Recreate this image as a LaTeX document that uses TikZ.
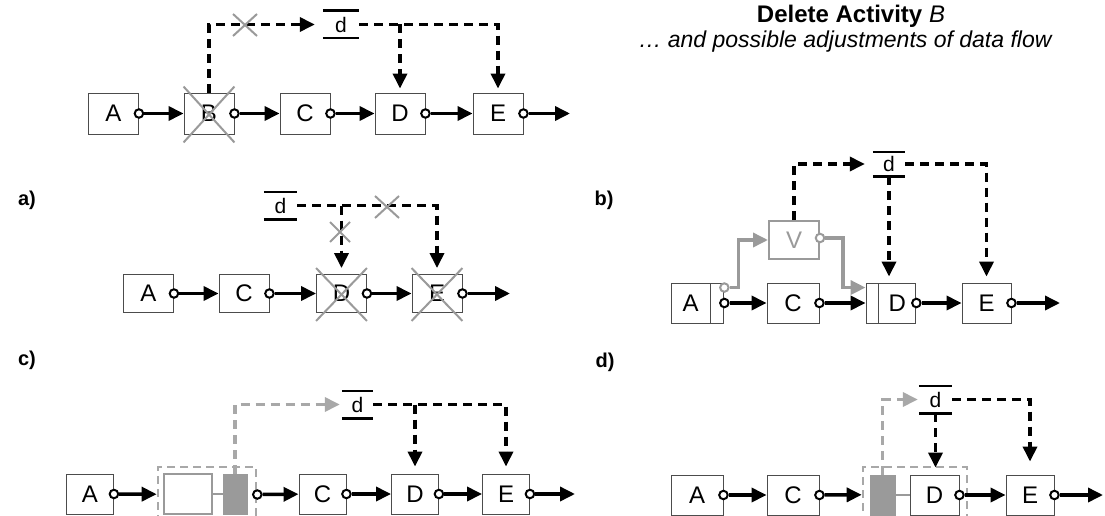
\documentclass[tikz,border=0pt]{standalone}
\usepackage{fontspec}
\setmainfont{Liberation Sans}
\usetikzlibrary{arrows.meta,positioning}
\definecolor{lgrey}{HTML}{9A9A9A}
\definecolor{dgrey}{HTML}{A8A8A8}

\tikzset{
  act/.style={draw=black!70,line width=.9pt,fill=white,minimum width=50pt,
    minimum height=40pt,inner sep=0pt,font=\fontsize{24}{28}\selectfont},
  gact/.style={act,draw=lgrey,text=lgrey,line width=2pt},
  blk/.style={draw=lgrey,fill=lgrey,minimum width=24pt,minimum height=40pt,inner sep=0pt},
  grp/.style={draw=dgrey,line width=2.6pt,dash pattern=on 8pt off 5pt,
    minimum width=98pt,minimum height=55pt,inner sep=0pt},
  port/.style={circle,draw,line width=2pt,fill=white,minimum size=8.5pt,inner sep=0pt},
  flow/.style={line width=3.5pt,-{Triangle[length=15pt,width=14pt]}},
  gflow/.style={flow,draw=lgrey},
  dflow/.style={flow,dash pattern=on 9pt off 6pt},
  gdflow/.style={dflow,draw=dgrey},
  bar/.style={draw,line width=2.6pt},
  data/.style={minimum width=34pt,minimum height=27pt,inner sep=0pt,
    font=\fontsize{21}{24}\selectfont,
    append after command={(\tikzlastnode.north west) edge[bar] (\tikzlastnode.north east)
      (\tikzlastnode.south west) edge[bar] (\tikzlastnode.south east)}},
  xmark/.style={draw=lgrey,line width=2pt},
  lbl/.style={font=\fontsize{20}{24}\selectfont\bfseries},
}

\begin{document}
\begin{tikzpicture}[x=1pt,y=-1pt]
  \useasboundingbox (0,0) rectangle (1105,516);

  % title
  \node[font=\fontsize{24}{26}\selectfont\bfseries] (title) at (851,16)
    {Delete Activity {\mdseries\itshape B}};
  \node[font=\fontsize{23}{26}\selectfont\itshape] (sub) at (845,42)
    {\dots{} and possible adjustments of data flow};

  % original process
  \node[act,minimum height=41pt] (A0) at (113.5,113.5) {A};
  \node[act,minimum height=41pt] (B0) at (209,113.5) {B};
  \node[act,minimum height=41pt] (C0) at (305,113.5) {C};
  \node[act,minimum height=41pt] (D0) at (400,113.5) {D};
  \node[act,minimum height=41pt] (E0) at (498,113.5) {E};
  \coordinate (end0) at (570,113.5);
  \node[data,minimum width=36pt] (d0) at (341,24.5) {d};
  \foreach \n/\m in {A0/B0,B0/C0,C0/D0,D0/E0,E0/end0}{
    \node[port] (p\n) at (\n.east) {};
    \draw[flow] (p\n) -- (\m);
  }
  \draw[dflow,shorten >=8pt] (B0.north) |- (d0.west);
  \draw[dflow,shorten >=4pt] (d0.east) -| (E0.north);
  \draw[dflow,shorten >=4pt] (D0.north |- d0.east) -- (D0.north);
  \draw[xmark] (245,25) +(-12,-11) -- +(12,11) +(-12,11) -- +(12,-11);
  \draw[xmark] ([yshift=6pt]B0.north west) -- ([yshift=-8pt]B0.south east)
    ([yshift=-8pt]B0.south west) -- ([yshift=6pt]B0.north east);

  % a)
  \node[lbl] (la) at (27,200) {a)};
  \node[act,minimum height=38pt] (A1) at (148.5,293.5) {A};
  \node[act,minimum height=38pt] (C1) at (244,293.5) {C};
  \node[act,minimum height=38pt] (D1) at (341.5,293.5) {D};
  \node[act,minimum height=38pt] (E1) at (437,293.5) {E};
  \coordinate (end1) at (510,293.5);
  \node[data,minimum width=33pt] (d1) at (280.5,205.5) {d};
  \foreach \n/\m in {A1/C1,C1/D1,D1/E1,E1/end1}{
    \node[port] (p\n) at (\n.east) {};
    \draw[flow] (p\n) -- (\m);
  }
  \draw[dflow,shorten >=6pt] (d1.east) -| (E1.north);
  \draw[dflow,shorten >=6pt] (D1.north |- d1.east) -- (D1.north);
  \draw[xmark] (340,232) +(-10,-10) -- +(10,10) +(-10,10) -- +(10,-10);
  \draw[xmark] (387,207) +(-12,-11) -- +(12,11) +(-12,11) -- +(12,-11);
  \foreach \n in {D1,E1}
    \draw[xmark] ([yshift=6pt]\n.north west) -- ([yshift=-8pt]\n.south east)
      ([yshift=-8pt]\n.south west) -- ([yshift=6pt]\n.north east);

  % b)
  \node[lbl] (lb) at (604,200) {b)};
  \node[act,minimum width=39pt] (A2) at (690.5,303) {A};
  \node[act,minimum width=13pt,right=0pt of A2] (A2p) {};
  \node[act,minimum width=52pt] (C2) at (793,303) {C};
  \node[act,minimum width=12pt] (D2p) at (872,303) {};
  \node[act,minimum width=37pt,right=0pt of D2p] (D2) {D};
  \node[act,minimum width=49pt] (E2) at (986.5,303) {E};
  \coordinate (end2) at (1060,303);
  \node[gact,minimum height=38pt] (V) at (794,240) {V};
  \node[data,minimum width=32pt,minimum height=24pt] (d2) at (889,164) {d};
  \node[port] (pA2) at (A2p.east) {};
  \node[port,draw=lgrey] (pA2g) at ([yshift=-5pt]A2p.north east) {};
  \node[port,draw=lgrey] (pV) at ([yshift=2pt]V.east) {};
  \node[port] (pD2) at (D2.east) {};
  \node[port] (pE2) at (E2.east) {};
  \node[port] (pC2) at (C2.east) {};
  \draw[gflow] (pA2g) -- ++(14,0) |- (V.west);
  \draw[gflow] (pV) -- ++(23,0) |- (D2p.west |- pA2g);
  \draw[flow] (pA2) -- (C2);
  \draw[flow] (pC2) -- (D2p);
  \draw[flow] (pD2) -- (E2);
  \draw[flow] (pE2) -- (end2);
  \draw[dflow,shorten >=8pt] (V.north) |- (d2.west);
  \draw[dflow,shorten >=6pt] (d2.east) -| (E2.north);
  \draw[dflow,shorten >=6pt] (d2.south) -- (d2.south |- D2.north);

  % c)
  \node[lbl] (lc) at (27,360) {c)};
  \node[act,minimum width=47pt] (A3) at (90,494) {A};
  \node[grp] (g3) at (207,494.5) {};
  \node[act,draw=lgrey,line width=2pt,minimum width=48pt] (n3) at (188,494) {};
  \node[blk] (f3) at (235,494) {};
  \node[act,minimum width=47pt] (C3) at (322.5,494) {C};
  \node[act,minimum width=47pt] (D3) at (415,494) {D};
  \node[act,minimum width=47pt] (E3) at (506,494) {E};
  \coordinate (end3) at (575,494);
  \node[data,minimum width=31pt] (d3) at (357.5,404.5) {d};
  \draw[lgrey,line width=2pt] (n3) -- (f3);
  \foreach \n/\m in {A3/g3,g3/C3,C3/D3,D3/E3,E3/end3}{
    \node[port] (p\n) at (\n.east) {};
    \draw[flow] (p\n) -- (\m);
  }
  \draw[gdflow,shorten >=2pt] (f3.north) |- (d3.west);
  \draw[dflow,shorten >=7pt] (d3.east) -| (E3.north);
  \draw[dflow,shorten >=7pt] (D3.north |- d3.east) -- (D3.north);

  % d)
  \node[lbl] (ld) at (605,362) {d)};
  \node[act,minimum width=52pt] (A4) at (697,495) {A};
  \node[act,minimum width=52pt] (C4) at (793,495) {C};
  \node[grp,minimum width=104pt] (g4) at (915,494.5) {};
  \node[blk,minimum width=25pt] (f4) at (882.5,495) {};
  \node[act,minimum width=49pt] (D4) at (934.5,495) {D};
  \node[act,minimum width=48pt] (E4) at (1030,495) {E};
  \coordinate (end4) at (1103,495);
  \node[data,minimum width=33pt] (d4) at (935.5,399.5) {d};
  \draw[lgrey,line width=2pt] (f4) -- (D4);
  \foreach \n/\m in {A4/C4,C4/g4,D4/E4,E4/end4}{
    \node[port] (p\n) at (\n.east) {};
    \draw[flow] (p\n) -- (\m);
  }
  \draw[gdflow,shorten >=1pt] (f4.north) |- (d4.west);
  \draw[dflow,shorten >=13pt] (d4.east) -| (E4.north);
  \draw[dflow,shorten >=7pt] (d4.south) -- (d4.south |- D4.north);
\end{tikzpicture}
\end{document}
